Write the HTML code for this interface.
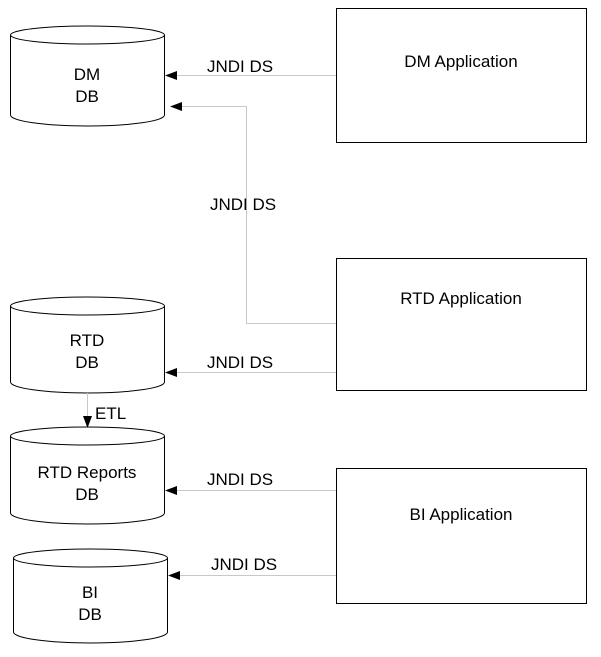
<!DOCTYPE html>
<html><head><style>html,body{margin:0;padding:0;background:#fff;}svg{display:block}</style></head>
<body>
<svg width="601" height="657" xmlns="http://www.w3.org/2000/svg" font-family="Liberation Sans, Arial, sans-serif" font-size="17" fill="none">
<g stroke="#000" stroke-width="1">
<rect x="336.5" y="8.5" width="250" height="134" fill="#fff"/>
<rect x="336.5" y="258.5" width="250" height="132" fill="#fff"/>
<rect x="336.5" y="468.5" width="250" height="135" fill="#fff"/>
<!-- DM cylinder -->
<path d="M10.5,35 L10.5,115 A77,11 0 0 0 164.5,115 L164.5,35" fill="#fff"/>
<ellipse cx="87.5" cy="35" rx="77" ry="9" fill="#fff"/>
<!-- RTD -->
<path d="M10.5,306 L10.5,382 A77,11 0 0 0 164.5,382 L164.5,306" fill="#fff"/>
<ellipse cx="87.5" cy="306" rx="77" ry="9" fill="#fff"/>
<!-- RTD Reports -->
<path d="M10.5,436 L10.5,513 A77,11 0 0 0 164.5,513 L164.5,436" fill="#fff"/>
<ellipse cx="87.5" cy="436" rx="77" ry="9" fill="#fff"/>
<!-- BI -->
<path d="M13.5,558 L13.5,632 A77,11 0 0 0 167.5,632 L167.5,558" fill="#fff"/>
<ellipse cx="90.5" cy="558" rx="77" ry="9" fill="#fff"/>
</g>
<g stroke="#c8c8c8" stroke-width="1">
<path d="M176,75.5 H336"/>
<path d="M181,106.5 H246.5 V323.5 H336"/>
<path d="M176,372.5 H336"/>
<path d="M176,490.5 H336"/>
<path d="M179,575.5 H336"/>
<path d="M87.5,393 V418"/>
</g>
<g fill="#000">
<polygon points="165,75.5 177,71 177,80"/>
<polygon points="170,106.5 182,102 182,111"/>
<polygon points="165,372.5 177,368 177,377"/>
<polygon points="165,490.5 177,486 177,495"/>
<polygon points="168,575.5 180,571 180,580"/>
<polygon points="87.5,428 83,416 92,416"/>
</g>
<g fill="#000" text-anchor="middle">
<text x="87" y="80">DM</text><text x="87" y="102">DB</text>
<text x="87" y="346">RTD</text><text x="87" y="368">DB</text>
<text x="87" y="478">RTD Reports</text><text x="87" y="500">DB</text>
<text x="90" y="598">BI</text><text x="90" y="620">DB</text>
<text x="461" y="67">DM Application</text>
<text x="461" y="304">RTD Application</text>
<text x="461" y="520">BI Application</text>
</g>
<g fill="#000">
<text x="207" y="72">JNDI DS</text>
<text x="210" y="210">JNDI DS</text>
<text x="207" y="368">JNDI DS</text>
<text x="207" y="485">JNDI DS</text>
<text x="211" y="570">JNDI DS</text>
<text x="95" y="419">ETL</text>
</g>
</svg>
</body></html>
